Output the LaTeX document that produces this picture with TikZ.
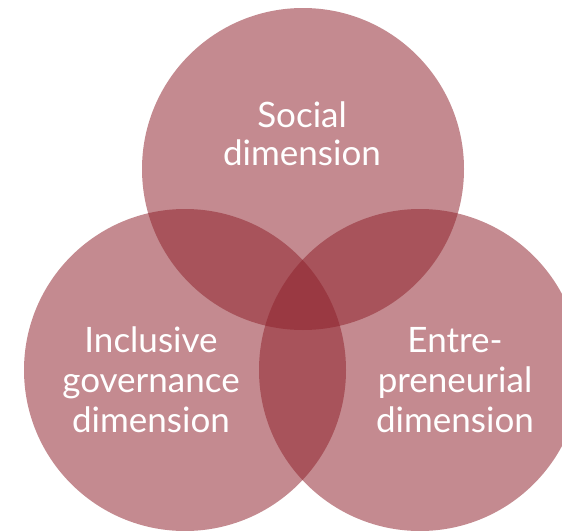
\documentclass[tikz,border=0pt]{standalone}
\usepackage{fontspec}
\setmainfont{Lato}
\definecolor{venn}{RGB}{143,34,44}
\begin{document}
\begin{tikzpicture}[x=1pt,y=-1pt,
  disc/.style={fill=venn,fill opacity=0.525,draw=none},
  lbl/.style={text=white,inner sep=0pt,anchor=base,font=\fontsize{35}{40}\selectfont}]
\useasboundingbox (0,0) rectangle (562,530);
\clip (0,0) rectangle (562,530);
\fill[white] (0,0) rectangle (562,530);
\fill[disc] (303,169) circle[radius=161];
\fill[disc] (185,370) circle[radius=161];
\fill[disc] (420,370) circle[radius=161];
\node[lbl] (s1) at (302,127) {Social};
\node[lbl] (s2) at (302,165) {dimension};
\node[lbl] (g1) at (151,352) {Inclusive};
\node[lbl] (g2) at (151,392) {governance};
\node[lbl] (g3) at (151,432) {dimension};
\node[lbl] (e1) at (455,352) {Entre-};
\node[lbl] (e2) at (455,392) {preneurial};
\node[lbl] (e3) at (455,432) {dimension};
\end{tikzpicture}
\end{document}
